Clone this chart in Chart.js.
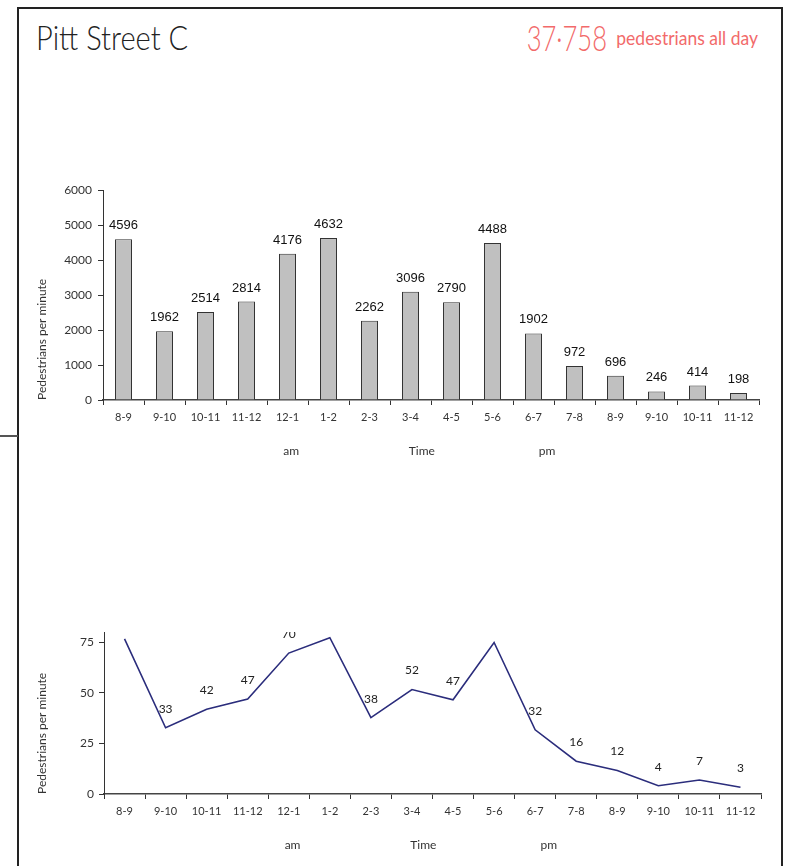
<!DOCTYPE html>
<html><head><meta charset="utf-8">
<script src="https://cdn.jsdelivr.net/npm/chart.js@4/dist/chart.umd.min.js"></script>
<style>
html,body{margin:0;padding:0;background:#fff;}
#page{position:relative;width:791px;height:866px;overflow:hidden;font-family:Lato,"Open Sans",sans-serif;}
#frame{position:absolute;left:17px;top:7px;width:762px;height:900px;border:2px solid #222;border-bottom:none;}
#stub{position:absolute;left:0;top:435px;width:18px;height:0;border-top:2px solid #555;}
#title{position:absolute;left:36px;top:21px;font-size:33px;line-height:33px;font-weight:300;color:#222;transform:scaleX(0.88);transform-origin:left top;white-space:nowrap;}
#totalBig{position:absolute;right:184px;top:20px;color:#f26a6a;white-space:nowrap;transform:scaleX(0.73);transform-origin:right top;line-height:35px;font-size:35px;font-weight:300;}
#totalSmall{position:absolute;right:33px;top:20px;color:#f26a6a;white-space:nowrap;transform:scaleX(0.92);transform-origin:right top;line-height:35px;font-size:19px;}
canvas{position:absolute;left:0;}
</style></head>
<body><div id="page">
<div id="frame"></div><div id="stub"></div>
<div id="title">Pitt Street C</div>
<div id="totalBig">37·758</div>
<div id="totalSmall">pedestrians all day</div>
<canvas id="c1" width="791" height="330" style="top:150px"></canvas>
<canvas id="c2" width="791" height="266" style="top:600px"></canvas>
</div>
<script>
// ---- data ----
const categories = ['8-9','9-10','10-11','11-12','12-1','1-2','2-3','3-4','4-5','5-6','6-7','7-8','8-9','9-10','10-11','11-12'];
const dailyCounts = [4596,1962,2514,2814,4176,4632,2262,3096,2790,4488,1902,972,696,246,414,198];
const perMinute = [76.6,32.7,41.9,46.9,69.6,77.2,37.7,51.6,46.5,74.8,31.7,16.2,11.6,4.1,6.9,3.3];
const barTicks = [0,1000,2000,3000,4000,5000,6000];
const lineTicks = [0,25,50,75];
const axisNotes = ['am','Time','pm'];
const yTitle = 'Pedestrians per minute';

Chart.defaults.font.family = 'Lato, "Open Sans", sans-serif';
Chart.defaults.color = '#333';

const notePos = [0.287, 0.486, 0.677];
const notesPlugin = {
  id:'notes',
  afterDraw(chart){
    const ctx = chart.ctx, a = chart.chartArea;
    ctx.save();
    ctx.font = '12px Lato, sans-serif'; ctx.fillStyle = '#333';
    ctx.textAlign = 'center'; ctx.textBaseline = 'middle';
    axisNotes.forEach((t,i)=>ctx.fillText(t, a.left + notePos[i]*(a.right-a.left), a.bottom + 51));
    ctx.restore();
  }
};
const barLabels = {
  id:'barLabels',
  afterDatasetsDraw(chart){
    const ctx = chart.ctx, meta = chart.getDatasetMeta(0), d = chart.data.datasets[0].data;
    ctx.save();
    ctx.font = '13px "Liberation Sans", Arial, sans-serif'; ctx.fillStyle = '#111';
    ctx.textAlign = 'center'; ctx.textBaseline = 'alphabetic';
    meta.data.forEach((el,i)=>ctx.fillText(String(d[i]), el.x, el.y - 10));
    ctx.restore();
  }
};
const lineLabels = {
  id:'lineLabels',
  afterDatasetsDraw(chart){
    const ctx = chart.ctx, meta = chart.getDatasetMeta(0), d = chart.data.datasets[0].data, a = chart.chartArea;
    ctx.save();
    ctx.beginPath(); ctx.rect(a.left, a.top, a.right-a.left, a.bottom-a.top); ctx.clip();
    ctx.font = '12px Lato, sans-serif'; ctx.fillStyle = '#222';
    ctx.textAlign = 'center'; ctx.textBaseline = 'middle';
    meta.data.forEach((el,i)=>ctx.fillText(String(Math.round(d[i])), el.x, el.y - 19));
    ctx.restore();
  }
};

function xScale(h){
  return {
    type:'category', offset:true,
    grid:{display:true, drawOnChartArea:false, offset:true, tickLength:5, color:'#333'},
    border:{display:true, color:'#444', width:1.5},
    ticks:{font:{size:11}, color:'#333', padding:6, maxRotation:0, autoSkip:false},
    afterFit(s){ s.height = h; }
  };
}
function yScale(min,max,step,ticksArr,w,pad){
  return {
    min:min, max:max,
    grid:{display:true, drawOnChartArea:false, tickLength:5, color:'#333'},
    border:{display:true, color:'#333', width:1},
    ticks:{stepSize:step, font:{size:12}, color:'#333', padding:pad, callback:(v)=>String(v)},
    title:{display:true, text:yTitle, align:'start', font:{size:12}, color:'#333', padding:{top:35,bottom:0}},
    afterBuildTicks(s){ s.ticks = ticksArr.map(v=>({value:v})); },
    afterFit(s){ s.width = w; }
  };
}

new Chart(document.getElementById('c1'), {
  type:'bar',
  data:{labels:categories, datasets:[{data:dailyCounts, backgroundColor:'#c0c0c0', borderColor:'#333', borderWidth:1, barPercentage:0.415, categoryPercentage:1}]},
  options:{
    responsive:false, animation:false,
    layout:{padding:{left:0,right:32,top:40,bottom:50}},
    plugins:{legend:{display:false}, tooltip:{enabled:false}},
    scales:{x:xScale(30), y:yScale(0,6000,1000,barTicks,103,6)}
  },
  plugins:[barLabels, notesPlugin]
});

new Chart(document.getElementById('c2'), {
  type:'line',
  data:{labels:categories, datasets:[{data:perMinute, borderColor:'#2b2d7c', borderWidth:1.6, pointRadius:0, tension:0, fill:false}]},
  options:{
    responsive:false, animation:false,
    layout:{padding:{left:0,right:30,top:32,bottom:42}},
    plugins:{legend:{display:false}, tooltip:{enabled:false}},
    scales:{x:xScale(30), y:yScale(0,80,25,lineTicks,104,5)}
  },
  plugins:[lineLabels, notesPlugin]
});
</script>
</body></html>
